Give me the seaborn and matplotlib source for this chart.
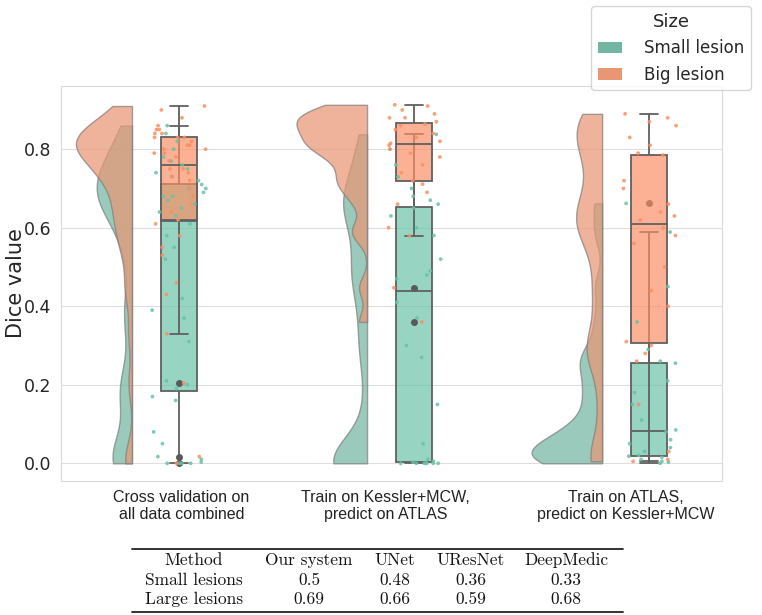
import numpy as np
import pandas as pd
import matplotlib
matplotlib.use("Agg")
import matplotlib.pyplot as plt
from matplotlib.patches import Patch
from matplotlib.lines import Line2D
import seaborn as sns

# ---------------- data ----------------
settings = ["cv", "k2a", "a2k"]
setting_labels = ["Cross validation on\nall data combined",
                  "Train on Kessler+MCW,\npredict on ATLAS",
                  "Train on ATLAS,\npredict on Kessler+MCW"]
sizes = ["Small lesion", "Big lesion"]

small_cv = [0.0, 0.0, 0.0, 0.0, 0.003, 0.01, 0.017, 0.05, 0.08, 0.16, 0.17,
            0.19, 0.20, 0.21, 0.31, 0.37, 0.39, 0.42, 0.52, 0.55, 0.58, 0.61,
            0.63, 0.64, 0.65, 0.66, 0.67, 0.68, 0.68, 0.69, 0.70, 0.70, 0.71,
            0.72, 0.73, 0.74, 0.75, 0.76, 0.77, 0.78, 0.80, 0.82, 0.84, 0.86]
big_cv = [0.0, 0.017, 0.204, 0.33, 0.43, 0.46, 0.53, 0.55, 0.58, 0.61,
          0.62, 0.64, 0.66, 0.68, 0.70, 0.72, 0.73, 0.74, 0.75, 0.75,
          0.77, 0.78, 0.79, 0.79, 0.80, 0.80, 0.81, 0.81, 0.82, 0.83,
          0.83, 0.83, 0.84, 0.84, 0.85, 0.85, 0.86, 0.88, 0.90, 0.91]
small_k2a = [0.0, 0.0, 0.0, 0.0, 0.0, 0.0, 0.0, 0.003,
             0.005, 0.01, 0.05, 0.15, 0.27, 0.30, 0.37, 0.41,
             0.47, 0.48, 0.49, 0.52, 0.58, 0.60, 0.63, 0.65,
             0.66, 0.67, 0.68, 0.70, 0.73, 0.76, 0.80, 0.838]
big_k2a = [0.36, 0.447, 0.579, 0.60, 0.66, 0.69, 0.711,
           0.72, 0.74, 0.76, 0.78, 0.79, 0.80, 0.81,
           0.815, 0.82, 0.83, 0.84, 0.85, 0.86, 0.864,
           0.87, 0.88, 0.88, 0.89, 0.90, 0.91, 0.913]
small_a2k = [0.0, 0.003, 0.005, 0.01, 0.015, 0.018,
             0.02, 0.03, 0.04, 0.05, 0.06, 0.08,
             0.085, 0.11, 0.15, 0.18, 0.21, 0.255,
             0.26, 0.29, 0.36, 0.45, 0.589, 0.662]
big_a2k = [0.005, 0.01, 0.03, 0.15, 0.26, 0.28, 0.30,
           0.31, 0.40, 0.44, 0.50, 0.56, 0.58, 0.60,
           0.62, 0.63, 0.64, 0.66, 0.70, 0.72, 0.785,
           0.79, 0.81, 0.83, 0.86, 0.87, 0.88, 0.89]

table_header = ["Method", "Our system", "UNet", "UResNet", "DeepMedic"]
table_small = ["Small lesions", "0.5", "0.48", "0.36", "0.33"]
table_large = ["Large lesions", "0.69", "0.66", "0.59", "0.68"]

groups = {("cv", sizes[0]): small_cv, ("cv", sizes[1]): big_cv,
          ("k2a", sizes[0]): small_k2a, ("k2a", sizes[1]): big_k2a,
          ("a2k", sizes[0]): small_a2k, ("a2k", sizes[1]): big_a2k}
rows = []
for (st, sz), vals in groups.items():
    for v in vals:
        rows.append({"Setting": st, "Size": sz, "Dice": v})
df = pd.DataFrame(rows)

# ---------------- style ----------------
sns.set_style("whitegrid", {"axes.edgecolor": "#d9d9d9", "grid.color": "#dedede"})
plt.rcParams["font.family"] = ["DejaVu Sans"]

colors = sns.color_palette("Set2", 2)
palette = dict(zip(sizes, colors))

fig = plt.figure(figsize=(7.62, 6.15), dpi=100)
ax = fig.add_axes([0.0797, 0.2184, 0.8675, 0.6418])

# half violins (clouds), placed to the left of each box
cloud_offset = 0.2      # gap between box centre and flat side of the cloud
cloud_halfwidth = 0.30  # widest cloud of each size class
for sz in sizes:
    before = len(ax.collections)
    sns.violinplot(data=df[df["Size"] == sz], x="Setting", y="Dice", order=settings,
                   hue="Size", hue_order=[sz], palette=palette, split=True,
                   inner=None, cut=0, density_norm="area", width=0.6,
                   bw_method=0.2, gridsize=200,
                   linewidth=1.0, linecolor="#808080", alpha=0.72,
                   legend=False, ax=ax)
    new = ax.collections[before:]
    vlist = [[np.array(p.vertices, dtype=float) for p in c.get_paths()] for c in new]
    spans = []
    for vs in vlist:
        allv = np.concatenate(vs)
        spans.append(allv[:, 0].max() - allv[:, 0].min())
    scale = cloud_halfwidth / max(spans)
    for i, (c, vs) in enumerate(zip(new, vlist)):
        allv = np.concatenate(vs)
        xmax = allv[:, 0].max()
        target = i - cloud_offset
        out = []
        for v in vs:
            w = v.copy()
            w[:, 0] = target + (v[:, 0] - xmax) * scale
            out.append(w)
        c.set_verts(out)

# boxes, overlaid per hue
n_patch = len(ax.patches)
sns.boxplot(data=df, x="Setting", y="Dice", order=settings, hue="Size",
            hue_order=sizes, palette=palette, dodge=False, width=0.15,
            whis=1.5, saturation=1, linecolor="#606060", linewidth=1.3,
            flierprops=dict(marker="o", markersize=4, markerfacecolor="#5a5a5a",
                            markeredgecolor="#5a5a5a"),
            legend=False, ax=ax)
for p in ax.patches[n_patch:]:
    fc = p.get_facecolor()
    p.set_facecolor((fc[0], fc[1], fc[2], 0.68))

# rain
np.random.seed(3)
sns.stripplot(data=df, x="Setting", y="Dice", order=settings, hue="Size",
              hue_order=sizes, palette=palette, dodge=False, jitter=0.12,
              size=2.7, alpha=0.85, legend=False, ax=ax, zorder=4)

ax.set_xlim(-0.503, 2.309)
ax.set_ylim(-0.0443, 0.961)
ax.set_yticks([0.0, 0.2, 0.4, 0.6, 0.8])
ax.set_yticklabels(["0.0", "0.2", "0.4", "0.6", "0.8"], fontsize=12.5, color="#262626")
ax.set_ylabel("Dice value", fontsize=15, color="#262626")
ax.yaxis.set_label_coords(-0.053, 0.5)
ax.set_xlabel("")
ax.xaxis.grid(False)
label_shift = np.array([0.01, -0.12, -0.1])
ax.set_xticks(np.arange(len(settings)) + label_shift)
ax.set_xticklabels(setting_labels, fontsize=11.5, family="Liberation Sans", color="#222222")
ax.tick_params(axis="x", pad=3)
for s in ax.spines.values():
    s.set_color("#d9d9d9")

# legend
handles = [Patch(facecolor=sns.desaturate(palette[s], 0.75), edgecolor="none", label=s) for s in sizes]
fig.legend(handles=handles, title="Size", loc="upper right",
           bbox_to_anchor=(0.996, 1.003), fontsize=12, title_fontsize=13,
           handlelength=1.45, handletextpad=1.3, frameon=True)

# table
W, H = 762.0, 615.0
col_x = [194, 309, 395, 471, 566]
row_y = [560, 580, 599]
for ry, row in zip(row_y, [table_header, table_small, table_large]):
    for cx, txt in zip(col_x, row):
        fig.text(cx / W, 1 - ry / H, txt, ha="center", va="center",
                 fontsize=12.5, family="cmr10", color="#111111")
for ly, lw in [(549, 1.3), (612, 1.3)]:
    fig.add_artist(Line2D([132 / W, 623 / W], [1 - ly / H, 1 - ly / H],
                          transform=fig.transFigure, color="#222222", lw=lw))

fig.savefig("out.png", dpi=100)
